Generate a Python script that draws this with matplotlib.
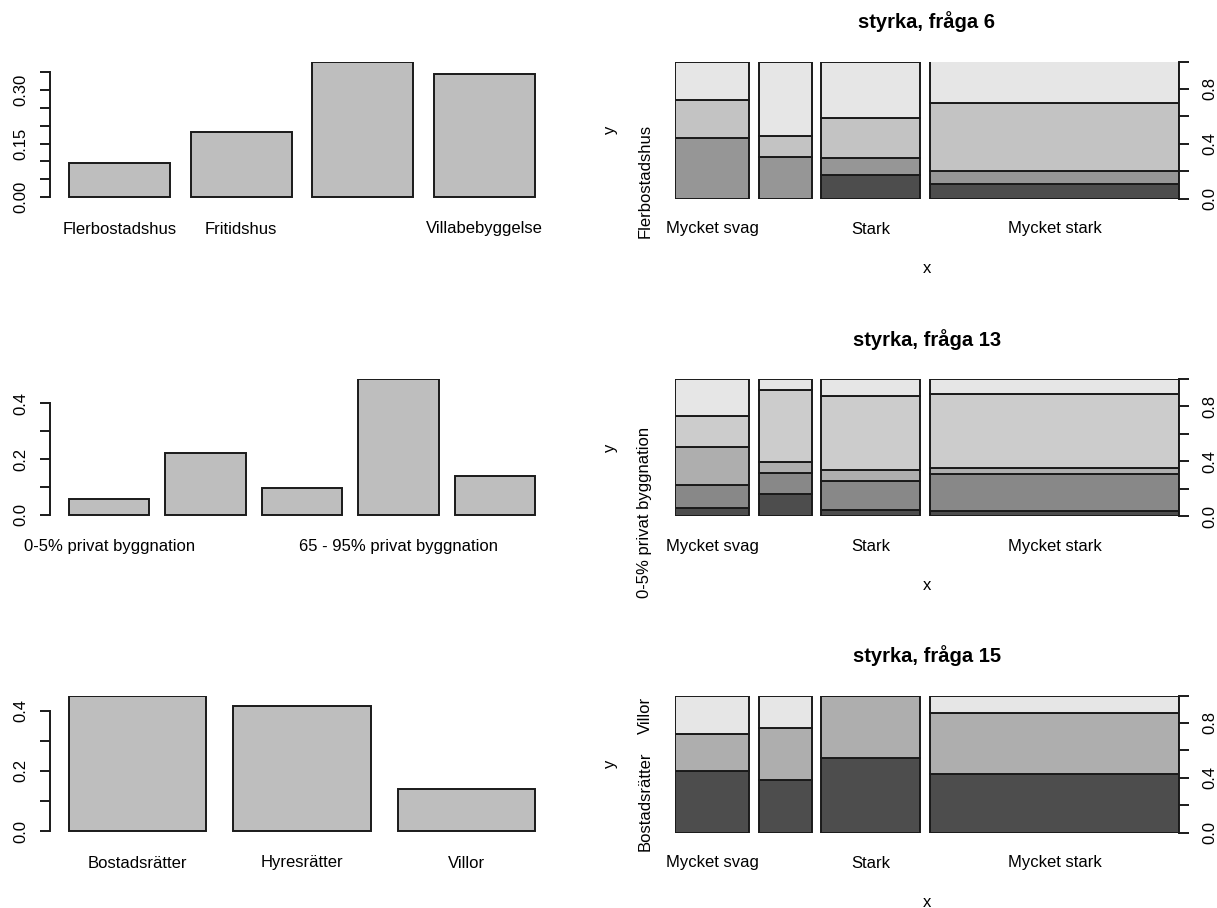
import matplotlib
matplotlib.use("Agg")
import matplotlib.pyplot as plt
import numpy as np

plt.rcParams['font.family'] = ['Liberation Sans', 'DejaVu Sans']

# ---------------- data ----------------
x_levels = ["Mycket svag", "Svag", "Stark", "Mycket stark"]
x_share = [0.156, 0.112, 0.208, 0.524]          # column widths of the spineplots
x_show = [True, False, True, True]

# fråga 6
q6_levels = ["Flerbostadshus", "Fritidshus", "", "Villabebyggelse"]
q6_bar = [0.095, 0.181, 0.380, 0.346]
q6_bar_show = [True, True, False, True]
q6_cond = [[0.000, 0.439, 0.281, 0.280],
           [0.000, 0.300, 0.158, 0.542],
           [0.174, 0.121, 0.292, 0.413],
           [0.106, 0.098, 0.495, 0.301]]
q6_ylab_show = [True, False, False, False]

# fråga 13
q13_levels = ["0-5% privat byggnation", "", "", "65 - 95% privat byggnation", ""]
q13_bar = [0.055, 0.222, 0.096, 0.488, 0.138]
q13_bar_show = [True, False, False, True, False]
q13_cond = [[0.056, 0.172, 0.278, 0.223, 0.271],
            [0.162, 0.155, 0.075, 0.531, 0.077],
            [0.046, 0.213, 0.078, 0.540, 0.123],
            [0.036, 0.269, 0.049, 0.537, 0.109]]
q13_ylab_show = [True, False, False, False, False]

# fråga 15
q15_levels = ["Bostadsrätter", "Hyresrätter", "Villor"]
q15_bar = [0.450, 0.415, 0.139]
q15_bar_show = [True, True, True]
q15_cond = [[0.449, 0.267, 0.284],
            [0.381, 0.381, 0.238],
            [0.541, 0.459, 0.000],
            [0.425, 0.444, 0.131]]
q15_ylab_show = [True, False, True]

titles = ["styrka, fråga 6", "styrka, fråga 13", "styrka, fråga 15"]

# ---------------- helpers ----------------
W, H = 1217, 908
fig = plt.figure(figsize=(W / 100, H / 100), dpi=100)

EDGE = "#1a1a1a"
LW = 1.4
FS = 12
PX = 72 / 100.0  # points per pixel


def gray_colors(n, start=0.3, end=0.9, gamma=2.2):
    vals = np.linspace(start ** gamma, end ** gamma, n) ** (1 / gamma)
    return [(v, v, v) for v in vals]


def fx(px):
    return px / W


def fy(py):
    return 1 - py / H


rows_top = [61.5, 379.0, 695.5]
row_h = 137.0
L_x0, L_x1 = 50.4, 553.6
R_x0, R_x1 = 675.0, 1179.0


def xlabels(ax, centers, labels):
    ax.set_xticks([])
    for c, lab in zip(centers, labels):
        if lab:
            ax.annotate(lab, xy=(c, 0), xycoords=("data", "axes fraction"),
                        xytext=(0, -35 * PX), textcoords="offset points",
                        ha="center", va="baseline", fontsize=FS)


def barpanel(top, values, levels, show, ticks, ticklabels, bound):
    ax = fig.add_axes([fx(L_x0), fy(top + row_h), fx(L_x1 - L_x0), row_h / H])
    n = len(values)
    centers = 0.7 + 1.2 * np.arange(n)
    ax.bar(centers, values, width=1.0, color="#BEBEBE", edgecolor=EDGE, linewidth=LW)
    lo, hi = 0.2, 0.2 + 1.2 * n - 0.2
    ext = 0.04 * (hi - lo)
    ax.set_xlim(lo - ext, hi + ext)
    m = max(values)
    ax.set_ylim(-0.011 * m, m)
    for s in ["top", "right", "bottom"]:
        ax.spines[s].set_visible(False)
    ax.spines["left"].set_bounds(0, bound)
    ax.spines["left"].set_linewidth(LW)
    ax.spines["left"].set_color(EDGE)
    ax.set_yticks(ticks)
    ax.set_yticklabels(ticklabels, rotation=90, va="center", fontsize=FS)
    ax.tick_params(axis="y", direction="out", length=10 * PX, width=LW, color=EDGE, pad=12 * PX)
    xlabels(ax, centers, [l if s else "" for l, s in zip(levels, show)])
    return ax


def spinepanel(top, cond, levels, ylab_show, title, ylab_pos=None):
    ax = fig.add_axes([fx(R_x0), fy(top + row_h), fx(R_x1 - R_x0), row_h / H])
    off = 0.02
    ny = len(levels)
    cols = gray_colors(ny)
    lefts = []
    xl = 0.0
    for w in x_share:
        lefts.append(xl)
        xl += w + off
    for j, (w, props) in enumerate(zip(x_share, cond)):
        b = 0.0
        for k, p in enumerate(props):
            ax.bar(lefts[j], p, width=w, bottom=b, align="edge", color=cols[k],
                   edgecolor=EDGE, linewidth=LW)
            b += p
    ax.set_xlim(0, 1 + off * (len(x_share) - 1))
    ax.set_ylim(0, 1)
    for s in ["top", "left", "bottom"]:
        ax.spines[s].set_visible(False)
    ax.spines["right"].set_bounds(0, 1)
    ax.spines["right"].set_linewidth(LW)
    ax.spines["right"].set_color(EDGE)
    # x labels
    centers = [l + w / 2 for l, w in zip(lefts, x_share)]
    xlabels(ax, centers, [l if s else "" for l, s in zip(x_levels, x_show)])
    # right axis
    ax.yaxis.tick_right()
    ax.set_yticks(np.arange(0, 1.01, 0.2))
    ax.set_yticklabels(["0.0", "", "0.4", "", "0.8", ""], rotation=90, va="center", fontsize=FS)
    ax.tick_params(axis="y", direction="out", length=10 * PX, width=LW, color=EDGE, pad=13 * PX)
    # left category labels (midpoints of first column)
    first = np.concatenate([[0], np.cumsum(cond[0])])
    mids = (first[:-1] + first[1:]) / 2
    if ylab_pos is not None:
        mids = ylab_pos
    for lab, s, yv in zip(levels, ylab_show, mids):
        if s:
            ax.annotate(lab, xy=(0, yv), xycoords=("axes fraction", "data"),
                        xytext=(-30 * PX, 0), textcoords="offset points",
                        rotation=90, ha="center", va="center", fontsize=FS)
    # title, xlab, ylab
    cx = (R_x0 + R_x1) / 2
    fig.text(fx(cx), fy(top - 39.5), title, ha="center", va="center",
             fontsize=14.5, fontweight="bold")
    fig.text(fx(cx), fy(top + row_h + 70), "x", ha="center", va="center", fontsize=FS)
    fig.text(fx(610), fy(top + row_h / 2), "y", ha="center", va="center",
             rotation=90, fontsize=FS)
    return ax


# ---------------- row 1 ----------------
barpanel(rows_top[0], q6_bar, q6_levels, q6_bar_show,
         np.arange(0, 0.351, 0.05), ["0.00", "", "", "0.15", "", "", "0.30", ""], 0.35)
spinepanel(rows_top[0], q6_cond, q6_levels, q6_ylab_show, titles[0],
           ylab_pos=[0.13, 0, 0, 0])

# ---------------- row 2 ----------------
barpanel(rows_top[1], q13_bar, q13_levels, q13_bar_show,
         np.arange(0, 0.401, 0.1), ["0.0", "", "0.2", "", "0.4"], 0.4)
spinepanel(rows_top[1], q13_cond, q13_levels, q13_ylab_show, titles[1])

# ---------------- row 3 ----------------
barpanel(rows_top[2], q15_bar, q15_levels, q15_bar_show,
         np.arange(0, 0.401, 0.1), ["0.0", "", "0.2", "", "0.4"], 0.4)
spinepanel(rows_top[2], q15_cond, q15_levels, q15_ylab_show, titles[2])

fig.savefig("out.png", dpi=100, facecolor="white")
